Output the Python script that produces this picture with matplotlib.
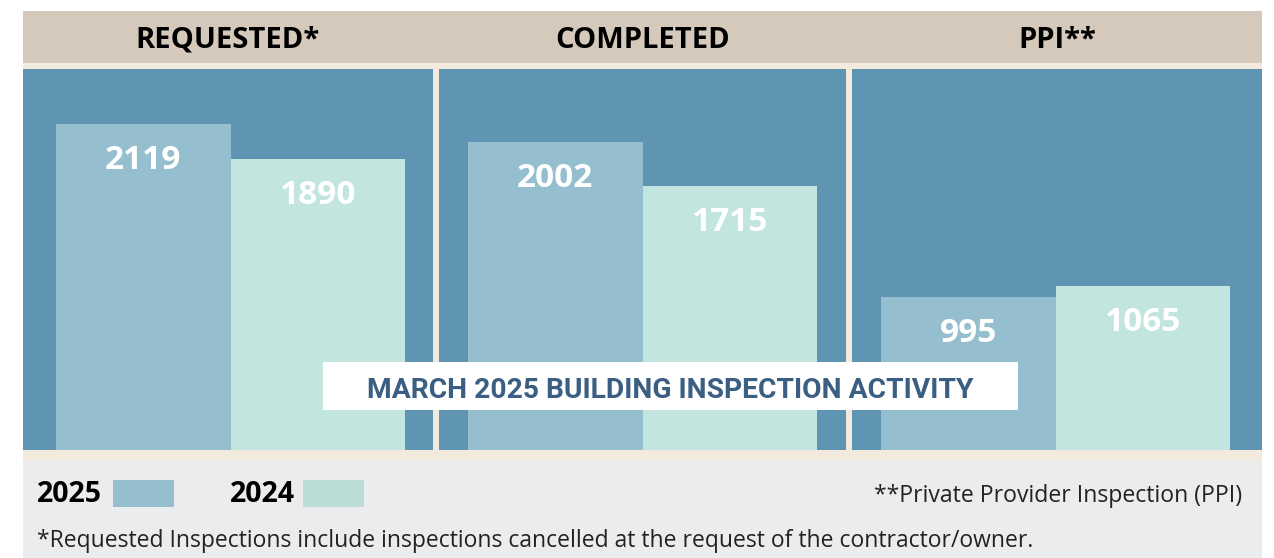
import matplotlib
matplotlib.use("Agg")
import matplotlib.pyplot as plt
from matplotlib.patches import Rectangle

# data
panels = ["REQUESTED*", "COMPLETED", "PPI**"]
years = ["2025", "2024"]
vals_2025 = [2119, 2002, 995]
vals_2024 = [1890, 1715, 1065]
title = "MARCH 2025 BUILDING INSPECTION ACTIVITY"
note_ppi = "**Private Provider Inspection (PPI)"
note_req = "*Requested Inspections include inspections cancelled at the request of the contractor/owner."

c_panel = "#5f94b3"
c_bars = ["#95bfcf", "#c2e5df"]
c_swatch = ["#95bfcf", "#bcddd6"]
c_beige = "#d5c9bb"
c_cream = "#f2eadc"
c_grey = "#ebecee"
c_title = "#3b5f82"

W, H = 1274, 558
fig = plt.figure(figsize=(W / 100, H / 100), dpi=100)
fig.patch.set_facecolor("white")
plt.rcParams['font.family'] = ['Open Sans', 'DejaVu Sans']


def px_axes(x0, y0, x1, y1, z=1):
	# rect given in pixels, y measured from top
	return fig.add_axes([x0 / W, 1 - y1 / H, (x1 - x0) / W, (y1 - y0) / H], zorder=z)


bg = px_axes(0, 0, W, H, 0)
bg.set_xlim(0, W)
bg.set_ylim(H, 0)
bg.axis("off")
bg.add_patch(Rectangle((23, 11), 1239, 52, color=c_beige, lw=0))
bg.add_patch(Rectangle((23, 63), 1239, 398, color=c_cream, lw=0))
bg.add_patch(Rectangle((23, 461), 1239, 97, color=c_grey, lw=0))

# panel edges in px and left margin before first bar
px0 = [23, 439, 852]
px1 = [433, 846, 1262]
marg = [33, 29, 29]
bw = 174.5
for i, name in enumerate(panels):
	x0, x1 = px0[i], px1[i]
	bg.text((x0 + x1) / 2, 40, name, ha="center", va="center", fontsize=21,
			fontweight="bold", color="black")
	ax = px_axes(x0, 69, x1, 450, 1)
	ax.set_facecolor(c_panel)
	for s in ax.spines.values():
		s.set_visible(False)
	ax.set_xticks([])
	ax.set_yticks([])
	v = [vals_2025[i], vals_2024[i]]
	ax.bar([0, 1], v, width=1.0, color=c_bars, lw=0)
	lo = -0.5 - marg[i] / bw
	ax.set_xlim(lo, lo + (x1 - x0) / bw)
	ax.set_ylim(0, 2476)
	for xx, vv in zip([0, 1], v):
		ax.text(xx, vv - 235, str(vv), ha="center", va="center", fontsize=24,
				fontweight="bold", color="white")

# title box on top
top = px_axes(0, 0, W, H, 5)
top.set_xlim(0, W)
top.set_ylim(H, 0)
top.axis("off")
top.add_patch(Rectangle((323, 362), 695, 48, color="white", lw=0))
top.text(670, 390, title, ha="center", va="center", fontsize=20.3,
		 fontweight="bold", color=c_title, family=["Roboto", "DejaVu Sans"])

# legend and notes
for xt, xs, lab, col in zip([37, 230], [113, 303], years, c_swatch):
	bg.text(xt, 494, lab, ha="left", va="center", fontsize=20.5, fontweight="bold", color="black")
	bg.add_patch(Rectangle((xs, 480), 61, 27, color=col, lw=0))
bg.text(1242, 496, note_ppi, ha="right", va="center", fontsize=16.6, color="#222222")
bg.text(37, 541, note_req, ha="left", va="center", fontsize=16.5, color="#222222")

fig.savefig("out.png", dpi=100)
